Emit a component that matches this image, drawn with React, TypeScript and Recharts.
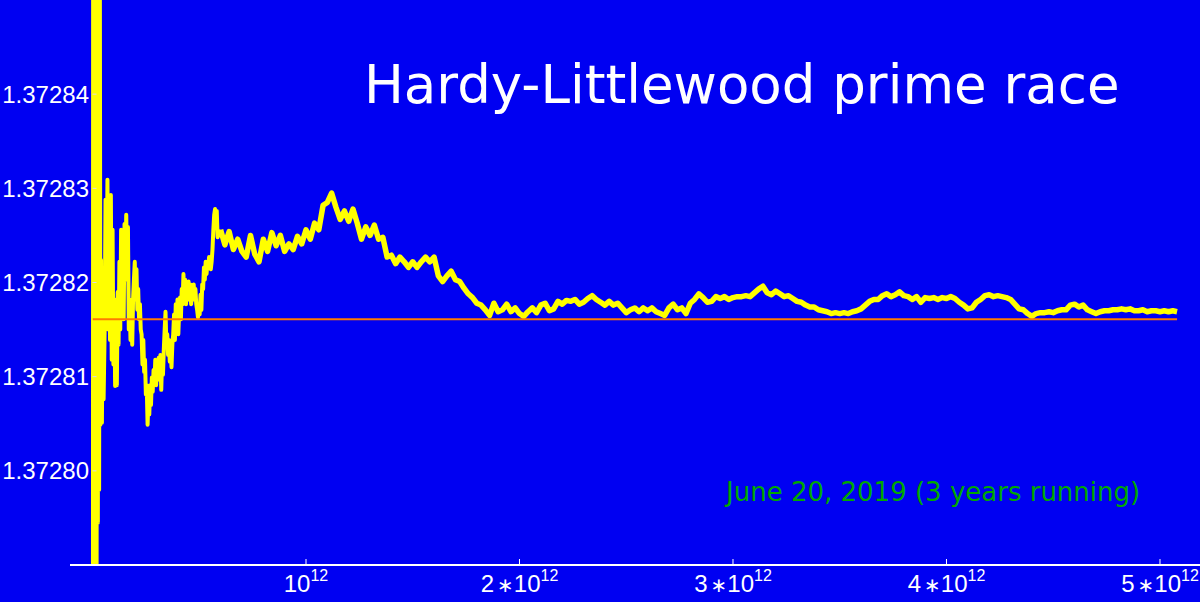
import { LineChart, Line, XAxis, YAxis, ReferenceLine } from 'recharts';

// n is in units of 10^12, ratio is the running value of the race
const startSpike: [number, number][] = [
  [0.001, 1.3727], [0.004, 1.37292], [0.007, 1.37274], [0.010, 1.37289],
  [0.013, 1.372775], [0.016, 1.37288], [0.019, 1.372785], [0.022, 1.372865],
  [0.025, 1.3727945], [0.028, 1.37286], [0.031, 1.372798], [0.034, 1.37286],
];

const earlyRace: [number, number][] = [
  [0.037, 1.3728049], [0.040, 1.3728224], [0.044, 1.3728051], [0.048, 1.3728182],
  [0.052, 1.3728076], [0.057, 1.372815], [0.061, 1.3728288], [0.065, 1.3728171],
  [0.070, 1.3728309], [0.074, 1.372815], [0.078, 1.3728288], [0.082, 1.3728139],
  [0.086, 1.3728293], [0.090, 1.3728118], [0.094, 1.3728256], [0.098, 1.3728113],
  [0.102, 1.3728182], [0.106, 1.372809], [0.110, 1.3728161], [0.114, 1.3728091],
  [0.118, 1.372819], [0.122, 1.3728134], [0.126, 1.3728222], [0.130, 1.372815],
  [0.134, 1.3728256], [0.138, 1.3728182], [0.142, 1.3728246], [0.146, 1.3728161],
  [0.150, 1.3728262], [0.154, 1.3728203], [0.158, 1.3728272], [0.162, 1.3728214],
  [0.166, 1.3728259], [0.170, 1.372815], [0.174, 1.3728182], [0.178, 1.3728139],
  [0.182, 1.3728161], [0.186, 1.3728134], [0.190, 1.3728182], [0.194, 1.3728203],
  [0.198, 1.3728222], [0.202, 1.3728182], [0.206, 1.3728214], [0.210, 1.3728171],
  [0.214, 1.3728193], [0.218, 1.3728161], [0.222, 1.3728177], [0.226, 1.372815],
  [0.230, 1.3728145], [0.234, 1.3728113], [0.238, 1.3728139], [0.242, 1.3728105],
  [0.246, 1.3728118], [0.250, 1.3728081], [0.254, 1.3728091], [0.258, 1.3728049],
  [0.262, 1.3728076], [0.266, 1.372806], [0.270, 1.3728091], [0.274, 1.372807],
  [0.278, 1.3728099], [0.282, 1.3728084], [0.286, 1.3728107], [0.290, 1.3728091],
  [0.294, 1.3728118], [0.298, 1.3728091], [0.302, 1.3728113], [0.306, 1.3728097],
  [0.310, 1.372812], [0.314, 1.3728102], [0.318, 1.3728123], [0.322, 1.3728086],
  [0.326, 1.3728118], [0.330, 1.3728102], [0.334, 1.3728129], [0.338, 1.372815],
  [0.342, 1.3728169], [0.346, 1.3728134], [0.350, 1.3728145], [0.354, 1.3728123],
  [0.358, 1.3728139], [0.362, 1.3728116], [0.366, 1.3728129], [0.370, 1.372811],
  [0.374, 1.3728134], [0.378, 1.3728145], [0.382, 1.3728166], [0.386, 1.3728139],
  [0.390, 1.3728177], [0.394, 1.372815], [0.398, 1.3728182], [0.402, 1.3728145],
  [0.406, 1.3728171], [0.410, 1.3728184], [0.414, 1.3728161], [0.418, 1.3728193],
  [0.422, 1.3728177], [0.426, 1.3728209], [0.430, 1.3728182], [0.434, 1.3728203],
  [0.438, 1.3728177], [0.442, 1.3728198], [0.446, 1.3728187], [0.450, 1.3728201],
  [0.454, 1.3728182], [0.458, 1.3728198], [0.462, 1.3728177], [0.466, 1.3728193],
  [0.470, 1.3728182], [0.474, 1.3728198], [0.478, 1.3728182], [0.482, 1.3728193],
  [0.486, 1.3728177], [0.490, 1.3728171], [0.494, 1.3728163], [0.498, 1.3728177],
  [0.502, 1.3728166], [0.506, 1.3728187], [0.510, 1.3728171], [0.514, 1.3728198],
  [0.518, 1.3728193], [0.522, 1.3728216], [0.526, 1.3728203], [0.530, 1.3728222],
  [0.534, 1.3728209], [0.538, 1.3728219], [0.542, 1.3728216], [0.546, 1.3728227],
  [0.550, 1.3728222], [0.554, 1.3728214], [0.558, 1.3728222], [0.562, 1.3728235],
  [0.566, 1.3728256], [0.570, 1.3728272], [0.574, 1.3728278], [0.578, 1.3728265],
  [0.582, 1.3728276], [0.586, 1.3728248],
];

const lateRace: [number, number][] = [
  [0.60, 1.3728256], [0.62, 1.372824], [0.64, 1.3728254], [0.66, 1.3728235],
  [0.68, 1.3728246], [0.70, 1.3728233], [0.72, 1.3728227], [0.74, 1.372825],
  [0.76, 1.372823], [0.78, 1.3728222], [0.80, 1.3728246], [0.82, 1.3728233],
  [0.84, 1.3728253], [0.86, 1.3728239], [0.88, 1.372825], [0.90, 1.3728233],
  [0.92, 1.3728241], [0.94, 1.3728235], [0.96, 1.3728249], [0.98, 1.3728241],
  [1.00, 1.3728256], [1.02, 1.3728246], [1.04, 1.3728263], [1.06, 1.3728256],
  [1.08, 1.3728282], [1.10, 1.3728285], [1.12, 1.3728295], [1.14, 1.372828],
  [1.16, 1.3728267], [1.18, 1.3728276], [1.20, 1.3728265], [1.22, 1.3728278],
  [1.24, 1.3728263], [1.26, 1.3728246], [1.28, 1.3728259], [1.30, 1.372825],
  [1.32, 1.3728261], [1.34, 1.3728246], [1.36, 1.3728248], [1.38, 1.3728227],
  [1.40, 1.3728229], [1.42, 1.372822], [1.44, 1.3728227], [1.46, 1.3728222],
  [1.48, 1.3728216], [1.50, 1.3728222], [1.52, 1.3728216], [1.54, 1.3728222],
  [1.56, 1.3728227], [1.58, 1.3728222], [1.60, 1.3728227], [1.62, 1.3728207],
  [1.64, 1.3728201], [1.66, 1.3728207], [1.68, 1.3728212], [1.70, 1.3728203],
  [1.72, 1.3728201], [1.74, 1.3728194], [1.76, 1.3728188], [1.78, 1.3728184],
  [1.80, 1.3728178], [1.82, 1.3728176], [1.84, 1.3728171], [1.86, 1.3728165],
  [1.88, 1.3728178], [1.90, 1.3728169], [1.92, 1.3728171], [1.94, 1.3728177],
  [1.96, 1.3728169], [1.98, 1.3728173], [2.00, 1.3728167], [2.02, 1.3728164],
  [2.04, 1.3728169], [2.06, 1.3728173], [2.08, 1.3728168], [2.10, 1.3728176],
  [2.12, 1.3728178], [2.14, 1.372817], [2.16, 1.3728172], [2.18, 1.372818],
  [2.20, 1.3728177], [2.22, 1.3728181], [2.24, 1.372818], [2.26, 1.3728182],
  [2.28, 1.3728177], [2.30, 1.3728179], [2.32, 1.3728183], [2.34, 1.3728186],
  [2.36, 1.3728182], [2.38, 1.3728179], [2.40, 1.3728176], [2.42, 1.372818],
  [2.44, 1.3728176], [2.46, 1.3728178], [2.48, 1.3728173], [2.50, 1.3728168],
  [2.52, 1.3728171], [2.54, 1.3728173], [2.56, 1.3728169], [2.58, 1.3728173],
  [2.60, 1.372817], [2.62, 1.3728173], [2.64, 1.3728169], [2.66, 1.3728167],
  [2.68, 1.3728165], [2.70, 1.3728173], [2.72, 1.3728177], [2.74, 1.3728171],
  [2.76, 1.3728173], [2.78, 1.3728167], [2.80, 1.3728178], [2.82, 1.3728182],
  [2.84, 1.3728188], [2.86, 1.3728184], [2.88, 1.3728179], [2.90, 1.372818],
  [2.92, 1.3728185], [2.94, 1.3728183], [2.96, 1.3728185], [2.98, 1.3728182],
  [3.00, 1.3728184], [3.02, 1.3728185], [3.04, 1.3728185], [3.06, 1.3728186],
  [3.08, 1.3728185], [3.10, 1.3728189], [3.12, 1.3728193], [3.14, 1.3728196],
  [3.16, 1.3728189], [3.18, 1.3728187], [3.20, 1.3728191], [3.22, 1.3728188],
  [3.24, 1.3728185], [3.26, 1.3728186], [3.28, 1.3728183], [3.30, 1.372818],
  [3.32, 1.3728179], [3.34, 1.3728176], [3.36, 1.3728174], [3.38, 1.3728174],
  [3.40, 1.3728171], [3.42, 1.372817], [3.44, 1.3728169], [3.46, 1.3728167],
  [3.48, 1.3728168], [3.50, 1.3728167], [3.52, 1.3728168], [3.54, 1.3728167],
  [3.56, 1.3728169], [3.58, 1.372817], [3.60, 1.3728172], [3.62, 1.3728176],
  [3.64, 1.372818], [3.66, 1.3728182], [3.68, 1.3728182], [3.70, 1.3728186],
  [3.72, 1.3728188], [3.74, 1.3728185], [3.76, 1.3728187], [3.78, 1.372819],
  [3.80, 1.3728186], [3.82, 1.3728185], [3.84, 1.3728182], [3.86, 1.3728185],
  [3.88, 1.3728179], [3.90, 1.3728184], [3.92, 1.3728183], [3.94, 1.3728184],
  [3.96, 1.3728182], [3.98, 1.3728184], [4.00, 1.3728183], [4.02, 1.3728185],
  [4.04, 1.3728183], [4.06, 1.3728179], [4.08, 1.3728176], [4.10, 1.3728172],
  [4.12, 1.3728173], [4.14, 1.3728179], [4.16, 1.3728182], [4.18, 1.3728186],
  [4.20, 1.3728187], [4.22, 1.3728185], [4.24, 1.3728186], [4.26, 1.3728185],
  [4.28, 1.3728184], [4.30, 1.3728182], [4.32, 1.3728177], [4.34, 1.3728172],
  [4.36, 1.3728171], [4.38, 1.3728167], [4.40, 1.3728164], [4.42, 1.3728167],
  [4.44, 1.3728168], [4.46, 1.3728168], [4.48, 1.3728169], [4.50, 1.3728168],
  [4.52, 1.372817], [4.54, 1.3728171], [4.56, 1.3728171], [4.58, 1.3728176],
  [4.60, 1.3728177], [4.62, 1.3728174], [4.64, 1.3728176], [4.66, 1.3728171],
  [4.68, 1.3728169], [4.70, 1.3728167], [4.72, 1.3728169], [4.74, 1.372817],
  [4.76, 1.372817], [4.78, 1.3728171], [4.80, 1.3728171], [4.82, 1.3728172],
  [4.84, 1.3728171], [4.86, 1.3728172], [4.88, 1.372817], [4.90, 1.372817],
  [4.92, 1.3728171], [4.94, 1.3728169], [4.96, 1.372817], [4.98, 1.372817],
  [5.00, 1.3728169], [5.02, 1.372817], [5.04, 1.3728169], [5.06, 1.372817],
  [5.08, 1.3728169],
];

const LIMIT = 1.3728161;
const xTicks = [1, 2, 3, 4, 5];
const yTicks = [1.3728, 1.37281, 1.37282, 1.37283, 1.37284];

const X_DOMAIN: [number, number] = [-0.1054, 5.1874];
const Y_DOMAIN: [number, number] = [1.37279, 1.37285];

const BLUE = '#0000f2';
const YELLOW = '#ffff00';
const AXIS_SHIFT = 22.5; // y axis sits at n = 0, right of the label gutter

const toRows = (pts: [number, number][]) => pts.map(([n, r]) => ({ n, r }));
// the early swings are drawn thinner than the settled tail, which is a fuzzy band
const earlyRows = toRows([...startSpike, ...earlyRace, lateRace[0]]);
const lateRows = toRows(lateRace);
const limitRows = [
  { n: startSpike[0][0], r: LIMIT },
  { n: lateRace[lateRace.length - 1][0], r: LIMIT },
];

const XTick = (props: any) => {
  const { x, y, payload } = props;
  const k = payload.value;
  return (
    <g>
      <line x1={x} x2={x} y1={y - 6} y2={y} stroke="#fff" strokeWidth={1} />
      <text
        x={x}
        y={y + 27}
        textAnchor="middle"
        fill="#fff"
        fontSize={24}
        fontFamily="'Liberation Sans', Arial, sans-serif"
      >
        {k > 1 && <tspan>{k}</tspan>}
        {k > 1 && (
          <tspan dx={3} fontSize={20} fontFamily="'DejaVu Sans', sans-serif">
            ∗
          </tspan>
        )}
        <tspan>10</tspan>
        <tspan dy={-11} fontSize={16}>
          12
        </tspan>
      </text>
    </g>
  );
};

const YTick = (props: any) => {
  const { x, y, payload } = props;
  return (
    <g>
      <line x1={x + AXIS_SHIFT} x2={x + AXIS_SHIFT + 4} y1={y} y2={y} stroke="#e0e0e0" />
      <text
        x={x + AXIS_SHIFT - 3.5}
        y={y}
        dy="0.355em"
        textAnchor="end"
        fill="#fff"
        fontSize={24}
        fontFamily="'Liberation Sans', Arial, sans-serif"
      >
        {payload.value.toFixed(5)}
      </text>
    </g>
  );
};

export default function App() {
  return (
    <div style={{ position: 'absolute', left: 0, top: 0, width: 1200, height: 602, background: BLUE }}>
      <LineChart width={1200} height={602} margin={{ top: 0, right: 0, bottom: 0, left: 0 }}>
        <XAxis
          type="number"
          dataKey="n"
          domain={X_DOMAIN}
          ticks={xTicks}
          interval={0}
          allowDataOverflow
          height={37}
          tickSize={0}
          tickMargin={0}
          tickLine={false}
          axisLine={{ stroke: '#fff', strokeWidth: 2 }}
          tick={<XTick />}
        />
        <YAxis
          type="number"
          domain={Y_DOMAIN}
          ticks={yTicks}
          interval={0}
          allowDataOverflow
          width={70}
          tickSize={0}
          tickMargin={0}
          tickLine={false}
          axisLine={false}
          tick={<YTick />}
        />
        <ReferenceLine x={0} stroke="#c8c8c8" strokeWidth={1.5} />
        <Line
          data={earlyRows}
          dataKey="r"
          stroke={YELLOW}
          strokeWidth={4}
          strokeLinejoin="round"
          dot={false}
          isAnimationActive={false}
        />
        <Line
          data={lateRows}
          dataKey="r"
          stroke={YELLOW}
          strokeWidth={5.5}
          strokeLinejoin="round"
          dot={false}
          isAnimationActive={false}
        />
        <Line
          data={limitRows}
          dataKey="r"
          stroke="#ff7a00"
          strokeWidth={2}
          dot={false}
          isAnimationActive={false}
        />
      </LineChart>
      <svg
        width={1200}
        height={602}
        style={{ position: 'absolute', left: 0, top: 0, pointerEvents: 'none' }}
      >
        <text x={364} y={103} fill="#fff" fontSize={53} fontFamily="'DejaVu Sans', sans-serif">
          Hardy-Littlewood prime race
        </text>
        <text x={726} y={501} fill="#00a800" fontSize={26} fontFamily="'DejaVu Sans', sans-serif">
          June 20, 2019 (3 years running)
        </text>
      </svg>
    </div>
  );
}
